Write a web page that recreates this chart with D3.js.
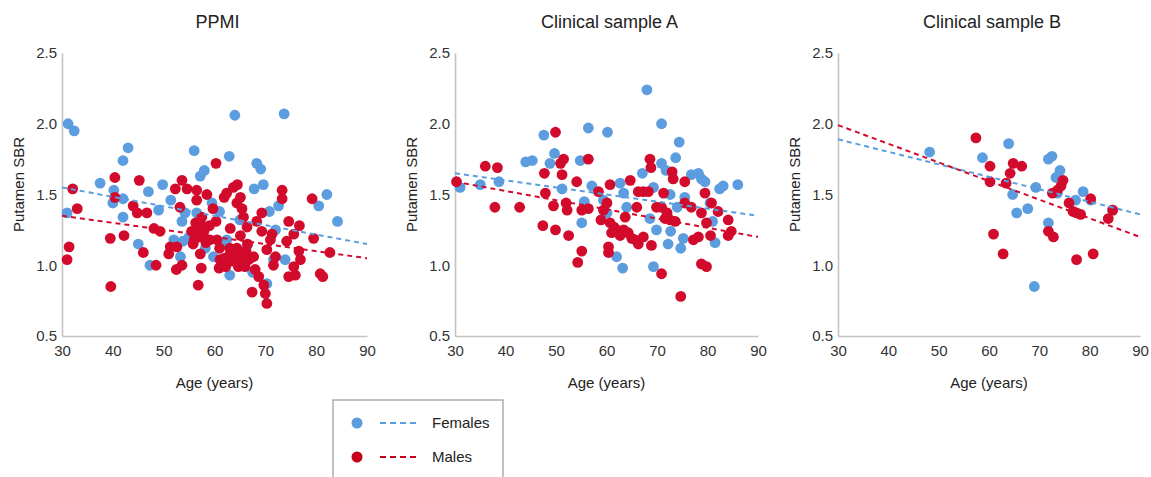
<!DOCTYPE html>
<html>
<head>
<meta charset="utf-8">
<script src="https://cdn.jsdelivr.net/npm/d3@7"></script>
<style>
  body { margin: 0; background: #fff; font-family: "Liberation Sans", Arial, sans-serif; }
</style>
</head>
<body>
<div id="chart"></div>
<script>
// Panel titles
const panelTitles = ["PPMI", "Clinical sample A", "Clinical sample B"];

// Tick labels
const xTicks = [30, 40, 50, 60, 70, 80, 90];
const yTicks = [0.5, 1.0, 1.5, 2.0, 2.5];

// PPMI [age, SBR]
const ppmiFemales = [
  [31.2, 2.0], [32.4, 1.95], [31, 1.37], [37.5, 1.58], [40.2, 1.53], [40, 1.44],
  [42, 1.47], [42, 1.74], [43, 1.83], [42, 1.34], [45, 1.15], [47, 1.52],
  [47.3, 1.0], [49, 1.39], [49.8, 1.57], [51.4, 1.46], [52, 1.18], [53.8, 1.17],
  [53.3, 1.06], [53.6, 1.31], [54.2, 1.37], [56, 1.81], [57.2, 1.63], [58, 1.67],
  [56.5, 1.37], [58.2, 1.12], [59.5, 1.44], [61, 1.38], [59.8, 1.06], [62.9, 1.77],
  [64, 2.06], [63, 0.93], [62.4, 1.18], [65, 1.32], [68.3, 1.72], [69.1, 1.68],
  [67.8, 1.54], [69.6, 1.57], [70.8, 1.38], [72.6, 1.42], [73.7, 2.07], [71.6, 1.04],
  [70.3, 0.87], [73.9, 1.04], [80.5, 1.42], [82.1, 1.5], [84.2, 1.31], [66.4, 1.14],
  [72, 1.25], [55, 1.2], [61.5, 1.15], [67.5, 0.95]
];
const ppmiMales = [
  [31, 1.04], [31.4, 1.13], [32.1, 1.54], [33, 1.4], [39.5, 1.19], [39.6, 0.85],
  [40.4, 1.62], [40.4, 1.48], [42.2, 1.21], [44, 1.42], [44.8, 1.37], [45.2, 1.6],
  [46, 1.09], [46.7, 1.37], [48.1, 1.26], [48.5, 1.0], [49.3, 1.24], [51, 1.08],
  [51.3, 1.13], [52.3, 1.54], [52.6, 1.13], [53.2, 1.41], [53.6, 1.6], [52.5, 0.97],
  [53.6, 1.0], [54.6, 1.54], [55.5, 1.24], [56.2, 1.22], [56.8, 1.27], [56.5, 1.53],
  [56.5, 1.46], [56.8, 0.86], [57.2, 1.08], [57.5, 1.34], [57.8, 1.22], [58.5, 1.5],
  [57.4, 0.98], [59.1, 1.18], [59.7, 1.4], [60.3, 1.72], [60.3, 1.31], [60.5, 1.18],
  [60.9, 0.98], [61, 1.12], [61.1, 1.04], [61.9, 1.48], [62.4, 1.51], [63.1, 1.26],
  [63.7, 1.55], [64.5, 1.57], [64.4, 1.44], [65.1, 1.48], [65.4, 1.4], [65.7, 1.34],
  [63.1, 1.08], [63.7, 1.04], [64.4, 1.12], [64.7, 0.99], [65.1, 1.21], [65.7, 1.08],
  [66, 0.99], [66.4, 1.27], [66.7, 1.04], [67.4, 0.81], [67.7, 1.06], [68, 0.97],
  [68.3, 1.31], [68.7, 0.92], [69.3, 1.37], [69.3, 1.24], [69.7, 0.86], [70, 0.8],
  [70.3, 0.73], [70.3, 1.11], [71, 1.18], [71.6, 1.0], [72, 1.06], [71.3, 1.22],
  [73.3, 1.53], [73.3, 1.47], [74.6, 1.31], [74.2, 1.17], [74.6, 0.92], [75.6, 0.99],
  [75.9, 0.93], [75.6, 1.22], [76.7, 1.28], [76.6, 1.1], [76.9, 1.04], [79.2, 1.47],
  [79.5, 1.19], [80.8, 0.94], [81.3, 0.92], [82.7, 1.09], [58, 1.25], [59, 1.28],
  [56, 1.18], [62, 1.05], [64, 1.1], [66.5, 1.15], [56, 1.23], [57, 1.2],
  [57.5, 1.28], [56.3, 1.3], [58.3, 1.16], [55.8, 1.15], [63.5, 1.03], [64.8, 1.06],
  [65.5, 1.02], [63, 1.12], [62.2, 0.99], [66.2, 1.1]
];

// Clinical sample A [age, SBR]
const sampleAFemales = [
  [31, 1.55], [35, 1.57], [38.7, 1.59], [44, 1.73], [45.3, 1.74], [47.6, 1.92],
  [48.8, 1.72], [49.7, 1.79], [51.2, 1.54], [54.8, 1.74], [55.1, 1.3], [55.6, 1.45],
  [56.4, 1.97], [57.1, 1.56], [60.2, 1.94], [59.4, 1.46], [60.1, 1.37], [62, 1.06],
  [63.2, 0.98], [62.7, 1.58], [63.4, 1.51], [64, 1.41], [68, 2.24], [67.1, 1.65],
  [69.3, 1.55], [69.3, 0.99], [68.6, 1.33], [69.9, 1.25], [70.9, 2.0], [70.9, 1.72],
  [71.8, 1.67], [72.6, 1.5], [72.2, 1.15], [72.7, 1.24], [73.7, 1.76], [74.4, 1.87],
  [74, 1.41], [74.7, 1.12], [75.2, 1.19], [75.5, 1.48], [76.8, 1.64], [78.2, 1.65],
  [78.8, 1.61], [79.5, 1.59], [81, 1.31], [81.5, 1.16], [82.4, 1.54], [83.1, 1.56],
  [86, 1.57], [80.5, 1.44]
];
const sampleAMales = [
  [30.3, 1.59], [36, 1.7], [38.4, 1.69], [37.9, 1.41], [42.8, 1.41], [47.4, 1.28],
  [47.7, 1.65], [47.9, 1.51], [49.9, 1.94], [49.5, 1.42], [49.9, 1.25], [50.9, 1.72],
  [51.5, 1.75], [51.2, 1.64], [52, 1.44], [52.2, 1.39], [52.5, 1.21], [54.1, 1.59],
  [54.3, 1.02], [55.1, 1.1], [55.1, 1.39], [56.4, 1.75], [56.4, 1.4], [58.4, 1.52],
  [58.9, 1.32], [59.4, 1.39], [60.1, 1.44], [60.4, 1.13], [60.4, 1.09], [60.7, 1.57],
  [60.7, 1.3], [61, 1.23], [61.5, 1.27], [62, 1.25], [62.7, 1.21], [63.4, 1.25],
  [63.7, 1.34], [64.3, 1.23], [64.7, 1.6], [65, 1.19], [65.7, 1.18], [66.3, 1.15],
  [66, 1.41], [66.3, 1.52], [67.3, 1.52], [67.3, 1.2], [68.3, 1.52], [68.6, 1.75],
  [68.8, 1.69], [68.9, 1.14], [69.9, 1.41], [70.9, 1.41], [71.3, 1.51], [71.6, 1.33],
  [72, 1.37], [72.6, 1.32], [73, 1.66], [73.2, 1.61], [73.6, 1.31], [70.9, 0.94],
  [74.7, 0.78], [75.5, 1.59], [75.5, 1.44], [76.8, 1.41], [77.2, 1.18], [78.2, 1.2],
  [78.8, 1.37], [78.8, 1.01], [79.8, 0.99], [79.5, 1.51], [79.8, 1.3], [80.6, 1.21],
  [80.8, 1.44], [82.1, 1.38], [84.1, 1.32], [84.1, 1.21], [84.7, 1.24]
];

// Clinical sample B [age, SBR]
const sampleBFemales = [
  [48.2, 1.8], [58.7, 1.76], [63.9, 1.86], [64.7, 1.5], [65.5, 1.37], [67.7, 1.4],
  [69.3, 1.55], [69, 0.85], [71.8, 1.3], [71.8, 1.75], [72.5, 1.77], [73.3, 1.62],
  [74.1, 1.67], [73.6, 1.51], [77.2, 1.46], [78.7, 1.52], [80.2, 1.46], [84.5, 1.39]
];
const sampleBMales = [
  [57.4, 1.9], [60.2, 1.7], [60.2, 1.59], [60.9, 1.22], [62.8, 1.08], [63.4, 1.58],
  [64.2, 1.65], [64.8, 1.72], [66.5, 1.7], [71.8, 1.24], [72.8, 1.2], [72.6, 1.51],
  [73.6, 1.53], [74.3, 1.56], [74.7, 1.6], [75.9, 1.44], [76.7, 1.38], [77.4, 1.37],
  [78.2, 1.36], [77.4, 1.04], [80.2, 1.47], [80.7, 1.08], [83.7, 1.33], [84.6, 1.39]
];

// Fit lines, SBR at age 30 and age 90
const femaleFits = [[1.55, 1.15], [1.65, 1.35], [1.89, 1.36]];
const maleFits = [[1.35, 1.05], [1.59, 1.2], [1.99, 1.2]];

const femaleColor = "#5b9ddf";
const maleColor = "#d20a2c";

const panels = [
  { title: panelTitles[0], females: ppmiFemales, males: ppmiMales, left: 62, right: 367 },
  { title: panelTitles[1], females: sampleAFemales, males: sampleAMales, left: 455, right: 758 },
  { title: panelTitles[2], females: sampleBFemales, males: sampleBMales, left: 838, right: 1140 },
];

const width = 1151, height = 477;
const plotTop = 53, plotBottom = 336;

const svg = d3.select("#chart").append("svg")
  .attr("width", width)
  .attr("height", height);

panels.forEach((p, i) => {
  const x = d3.scaleLinear().domain([30, 90]).range([p.left, p.right]);
  const y = d3.scaleLinear().domain([0.5, 2.5]).range([plotBottom, plotTop]);
  const g = svg.append("g");

  // Axes
  const xAxis = g.append("g")
    .attr("transform", `translate(0,${plotBottom})`)
    .call(d3.axisBottom(x).tickValues(xTicks).tickSize(0).tickPadding(9).tickFormat(d3.format("d")));
  const yAxis = g.append("g")
    .attr("transform", `translate(${p.left},0)`)
    .call(d3.axisLeft(y).tickValues(yTicks).tickSize(0).tickPadding(5).tickFormat(d3.format(".1f")));
  [xAxis, yAxis].forEach((a) => {
    a.select(".domain").attr("stroke", "#c4c4c4").attr("stroke-width", 1.6);
    a.selectAll("text")
      .attr("fill", "#333")
      .style("font-size", "15px")
      .style("font-family", "Liberation Sans, Arial, sans-serif");
  });

  // Points
  g.selectAll(".f")
    .data(p.females)
    .enter()
    .append("circle")
    .attr("cx", (d) => x(d[0]))
    .attr("cy", (d) => y(d[1]))
    .attr("r", 5.4)
    .attr("fill", femaleColor);

  g.selectAll(".m")
    .data(p.males)
    .enter()
    .append("circle")
    .attr("cx", (d) => x(d[0]))
    .attr("cy", (d) => y(d[1]))
    .attr("r", 5.4)
    .attr("fill", maleColor);

  // Fit lines
  [[femaleFits[i], femaleColor], [maleFits[i], maleColor]].forEach(([f, c]) => {
    g.append("line")
      .attr("x1", x(30)).attr("y1", y(f[0]))
      .attr("x2", x(90)).attr("y2", y(f[1]))
      .attr("stroke", c)
      .attr("stroke-width", 2)
      .attr("stroke-dasharray", "5,4");
  });

  // Titles and labels
  const cx = (p.left + p.right) / 2;
  g.append("text")
    .attr("x", cx + 3).attr("y", 28)
    .attr("text-anchor", "middle")
    .attr("fill", "#222")
    .style("font-size", "18px")
    .text(p.title);

  g.append("text")
    .attr("x", cx).attr("y", 388)
    .attr("text-anchor", "middle")
    .attr("fill", "#222")
    .style("font-size", "15px")
    .text("Age (years)");

  g.append("text")
    .attr("transform", `translate(${p.left - 38},${(plotTop + plotBottom) / 2 - 10}) rotate(-90)`)
    .attr("text-anchor", "middle")
    .attr("fill", "#222")
    .style("font-size", "15px")
    .text("Putamen SBR");
});

// Legend
const legend = svg.append("g");
legend.append("rect")
  .attr("x", 333).attr("y", 400)
  .attr("width", 170).attr("height", 100)
  .attr("fill", "#fff")
  .attr("stroke", "#999")
  .attr("stroke-width", 1.2);

const legendItems = [["Females", femaleColor], ["Males", "#c4001a"]];
legendItems.forEach(([label, c], i) => {
  const ly = 423 + i * 34;
  legend.append("circle").attr("cx", 357).attr("cy", ly).attr("r", 5.5).attr("fill", c);
  legend.append("line")
    .attr("x1", 380).attr("x2", 418)
    .attr("y1", ly).attr("y2", ly)
    .attr("stroke", c)
    .attr("stroke-width", 2)
    .attr("stroke-dasharray", "6,4");
  legend.append("text")
    .attr("x", 432).attr("y", ly + 5)
    .attr("fill", "#222")
    .style("font-size", "15px")
    .text(label);
});
</script>
</body>
</html>
